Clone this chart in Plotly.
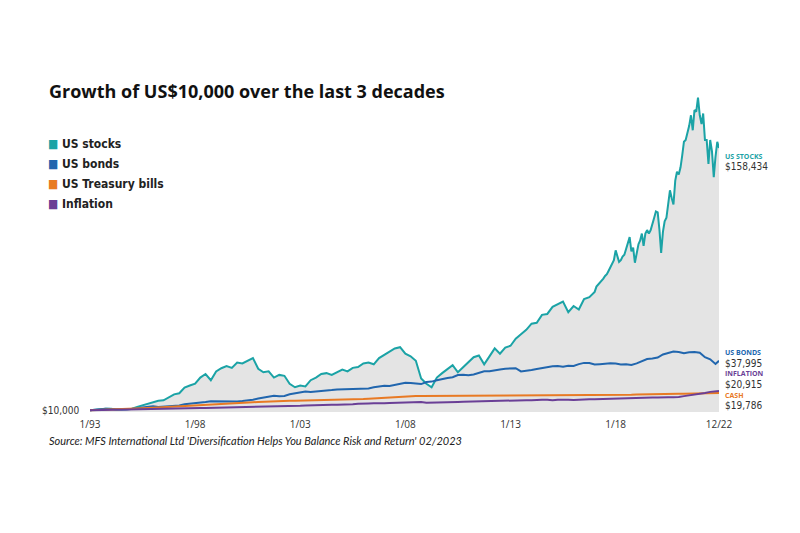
import pandas as pd
import plotly.graph_objects as go

# ---------------- data (values in US$ thousands) ----------------
# quarterly points Jan-1993 .. Oct-2016 (stocks), then monthly Jan-2017 .. Dec-2022
stocks_q = [
    10.0, 10.4, 10.5, 10.9,   10.8, 10.4, 10.6, 10.8,   10.9, 11.9, 12.8, 13.6,
    14.6, 15.4, 15.6, 17.2,   19.0, 19.6, 22.8, 24.0,   25.0, 28.5, 30.5, 27.0,
    32.0, 33.8, 35.0, 34.0,   37.0, 36.5, 37.8, 39.5,   33.5, 31.5, 32.0, 28.5,
    30.0, 29.5, 25.0, 23.0,   24.0, 23.5, 27.0, 28.5,   30.5, 31.0, 30.0, 31.5,
    33.0, 32.0, 34.0, 34.5,   36.5, 37.0, 36.0, 39.5,   41.5, 43.0, 45.0, 45.7,
    42.0, 40.5, 38.0, 28.0,   25.0, 23.0, 28.5, 31.0,   33.5, 35.5, 31.5, 34.5,
    37.5, 40.0, 41.0, 36.0,   40.5, 45.0, 42.0, 45.5,   46.5, 50.5, 53.0, 55.5,
    59.0, 59.5, 64.0, 64.5,   68.5, 70.0, 71.5, 65.5,   69.0, 67.0, 73.0, 74.0,
]
stocks_m = [
    77, 80, 81, 82, 83, 84.5, 86, 87, 89, 91, 93, 95,
    100.5, 96.5, 94, 95, 97, 98, 101, 104.5, 108, 100, 102, 93.5,
    100, 104, 106, 110, 103, 110, 112, 110, 112, 115, 119, 122.5,
    122, 112, 99, 111, 117, 119, 126, 134.5, 130, 126.5, 140, 145,
    143.5, 147.5, 154, 162, 163, 167, 171, 177, 168.5, 180, 179, 187,
    177, 172, 178, 163, 163, 149.5, 163, 156.5, 142, 153.5, 162, 158.434,
]
# quarterly points Jan-1993 .. Oct-2022, then Dec-2022
bonds = [
    10.0, 10.3, 10.6, 10.8,   10.7, 10.4, 10.4, 10.4,   10.6, 11.1, 11.6, 11.8,
    12.2, 11.9, 12.1, 12.5,   12.8, 12.7, 13.4, 13.6,   14.0, 14.2, 14.6, 15.1,
    15.0, 14.8, 14.7, 14.8,   14.9, 15.2, 15.4, 16.0,   16.6, 17.0, 17.4, 18.2,
    17.9, 18.1, 19.0, 19.6,   20.1, 20.6, 20.3, 20.5,   21.1, 20.9, 21.4, 21.8,
    21.9, 22.1, 22.4, 22.3,   22.4, 22.3, 23.0, 23.6,   23.9, 23.7, 24.3, 24.9,
    25.6, 25.4, 25.3, 24.8,   26.0, 26.2, 27.0, 27.8,   28.3, 28.7, 29.9, 30.1,
    29.8, 30.2, 31.2, 32.0,   32.1, 32.4, 33.1, 33.5,   33.6, 33.8, 32.0, 32.6,
    32.8, 33.3, 33.9, 34.4,   34.9, 35.0, 34.6, 35.2,   35.1, 36.1, 36.8, 36.7,
    35.9, 36.1, 36.5, 36.6,   36.4, 35.9, 36.0, 35.6,   36.5, 37.6, 39.0, 39.3,
    39.8, 41.6, 42.4, 43.2,   43.0, 42.3, 42.8, 43.0,   42.6, 40.0, 38.8, 36.2,
    37.995,
]
cash = [
    10.00, 10.08, 10.16, 10.24,  10.32, 10.42, 10.53, 10.66,  10.80, 10.95, 11.10, 11.25,
    11.39, 11.53, 11.68, 11.83,  11.98, 12.13, 12.29, 12.45,  12.61, 12.77, 12.93, 13.08,
    13.23, 13.38, 13.54, 13.70,  13.88, 14.08, 14.29, 14.50,  14.70, 14.87, 15.00, 15.11,
    15.18, 15.25, 15.31, 15.37,  15.43, 15.47, 15.51, 15.55,  15.59, 15.63, 15.69, 15.76,
    15.85, 15.96, 16.08, 16.22,  16.38, 16.56, 16.76, 16.96,  17.16, 17.36, 17.56, 17.74,
    17.86, 17.94, 18.02, 18.08,  18.10, 18.11, 18.12, 18.13,  18.13, 18.14, 18.15, 18.16,
    18.16, 18.17, 18.17, 18.18,  18.18, 18.19, 18.19, 18.20,  18.20, 18.21, 18.21, 18.21,
    18.22, 18.22, 18.22, 18.22,  18.23, 18.23, 18.23, 18.24,  18.25, 18.27, 18.29, 18.31,
    18.34, 18.38, 18.43, 18.48,  18.54, 18.62, 18.70, 18.79,  18.90, 19.01, 19.12, 19.22,
    19.30, 19.35, 19.36, 19.36,  19.37, 19.37, 19.37, 19.38,  19.38, 19.40, 19.48, 19.62,
    19.786,
]
inflation = [
    10.00, 10.08, 10.14, 10.20,  10.26, 10.33, 10.40, 10.46,  10.53, 10.62, 10.67, 10.72,
    10.80, 10.90, 10.96, 11.02,  11.08, 11.13, 11.15, 11.20,  11.24, 11.28, 11.31, 11.36,
    11.39, 11.49, 11.55, 11.64,  11.70, 11.85, 11.93, 12.02,  12.10, 12.21, 12.25, 12.26,
    12.24, 12.38, 12.43, 12.50,  12.56, 12.71, 12.70, 12.78,  12.80, 12.96, 13.05, 13.12,
    13.14, 13.33, 13.42, 13.70,  13.58, 13.83, 13.93, 13.77,  13.92, 14.13, 14.24, 14.32,
    14.45, 14.70, 14.92, 14.63,  14.26, 14.38, 14.58, 14.59,  14.63, 14.73, 14.70, 14.75,
    14.85, 15.13, 15.18, 15.25,  15.19, 15.45, 15.35, 15.60,  15.45, 15.61, 15.66, 15.69,
    15.67, 15.90, 15.96, 15.92,  15.60, 15.88, 15.99, 15.89,  15.78, 16.00, 16.12, 16.21,
    16.22, 16.34, 16.37, 16.51,  16.54, 16.78, 16.83, 16.90,  16.77, 17.08, 17.13, 17.21,
    17.22, 17.07, 17.32, 17.42,  17.46, 17.99, 18.37, 18.78,  19.16, 19.75, 20.39, 20.58,
    20.915,
]
tick_dates = ["1993-01-01", "1998-01-01", "2003-01-01", "2008-01-01",
              "2013-01-01", "2018-01-01", "2022-12-01"]
tick_text = ["1/93", "1/98", "1/03", "1/08", "1/13", "1/18", "12/22"]
series_names = ["US stocks", "US bonds", "US Treasury bills", "Inflation"]
end_names = ["US STOCKS", "US BONDS", "INFLATION", "CASH"]
end_values = ["$158,434", "$37,995", "$20,915", "$19,786"]
start_label = "$10,000"
title_text = "Growth of US$10,000 over the last 3 decades"
source_text = "Source: MFS International Ltd 'Diversification Helps You Balance Risk and Return' 02/2023"

# ---------------- build ----------------
q_dates = pd.date_range("1993-01-01", periods=120, freq="QS")
m_dates = pd.date_range("2017-01-01", periods=72, freq="MS")
stock_x = list(q_dates[:96]) + list(m_dates)
stock_y = [v * 1000 for v in stocks_q + stocks_m]
other_x = list(q_dates) + [pd.Timestamp("2022-12-01")]

TEAL, BLUE, ORANGE, PURPLE = "#1ba3a6", "#2166ae", "#e87a24", "#6a3f96"
colors = [TEAL, BLUE, ORANGE, PURPLE]
NARROW = "DejaVu Sans Condensed, Roboto, sans-serif"

fig = go.Figure()
fig.add_trace(go.Scatter(x=stock_x, y=stock_y, mode="lines", fill="tozeroy",
                         fillcolor="#e4e4e4", line=dict(color=TEAL, width=2),
                         name=series_names[0], hoverinfo="skip"))
for vals, col, nm in [(bonds, BLUE, series_names[1]), (cash, ORANGE, series_names[2]),
                      (inflation, PURPLE, series_names[3])]:
    fig.add_trace(go.Scatter(x=other_x, y=[v * 1000 for v in vals], mode="lines",
                             line=dict(color=col, width=2), name=nm, hoverinfo="skip"))

L, R, T, B = 90, 81, 90, 121
W, H = 800, 533
pw, ph = W - L - R, H - T - B


def px(xp):
    return (xp - L) / pw


def py(yp):
    return (H - B - yp) / ph


ann = []
ann.append(dict(text=title_text, x=px(47), y=py(91), xanchor="left", yanchor="middle",
                font=dict(family="Open Sans", size=18, color="#111", weight=700)))
legend_y = [144, 164, 184, 204]
for nm, col, yy in zip(series_names, colors, legend_y):
    ann.append(dict(text=f'<span style="color:{col}">■</span> {nm}', x=px(46), y=py(yy),
                    xanchor="left", yanchor="middle",
                    font=dict(family=NARROW, size=12, color="#222", weight=700)))
end_pos = [(156, 166), (352, 363), (373, 384), (395, 405)]
end_cols = [TEAL, BLUE, PURPLE, ORANGE]
for nm, val, col, (y1, y2) in zip(end_names, end_values, end_cols, end_pos):
    ann.append(dict(text=nm, x=px(723), y=py(y1), xanchor="left", yanchor="middle",
                    font=dict(family="Open Sans", size=7, color=col, weight=700)))
    ann.append(dict(text=val, x=px(723), y=py(y2), xanchor="left", yanchor="middle",
                    font=dict(family=NARROW, size=10, color="#333")))
ann.append(dict(text=start_label, x=px(81), y=py(410), xanchor="right", yanchor="middle",
                font=dict(family=NARROW, size=10, color="#333")))
ann.append(dict(text=source_text, x=px(47), y=py(441), xanchor="left", yanchor="middle",
                font=dict(family="Lato", size=11, color="#222", style="italic")))
for a in ann:
    a.update(xref="paper", yref="paper", showarrow=False)

fig.update_layout(
    width=W, height=H, margin=dict(l=L, r=R, t=T, b=B),
    paper_bgcolor="white", plot_bgcolor="white", showlegend=False,
    annotations=ann,
    xaxis=dict(type="date", range=["1993-01-01", "2022-12-01"], showgrid=False,
               zeroline=False, showline=False, tickvals=tick_dates, ticktext=tick_text,
               tickfont=dict(family="Open Sans", size=10, color="#333"), ticks="",
               ticklabelstandoff=5),
    yaxis=dict(range=[9000, 191300], visible=False),
)
fig.write_html("out.html")
